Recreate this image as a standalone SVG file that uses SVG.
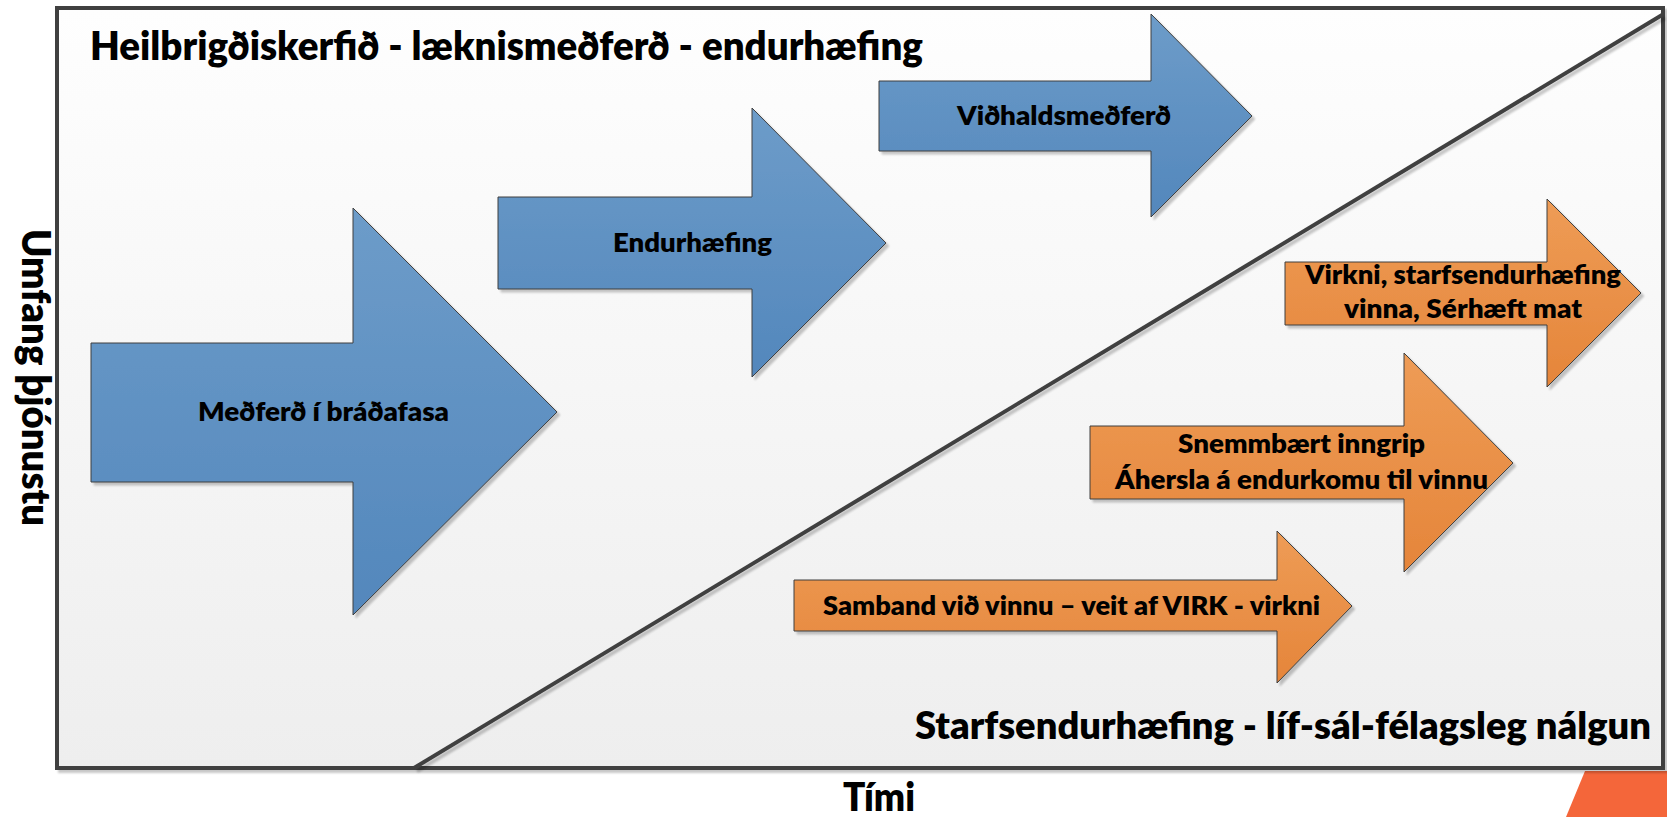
<svg xmlns="http://www.w3.org/2000/svg" width="1667" height="817" viewBox="0 0 1667 817">
<defs>
<linearGradient id="bg" x1="0" y1="0" x2="0" y2="1">
<stop offset="0" stop-color="#fefefe"/>
<stop offset="1" stop-color="#eeeeee"/>
</linearGradient>
<linearGradient id="blue" x1="0" y1="0" x2="0" y2="1">
<stop offset="0" stop-color="#6d9cc9"/>
<stop offset="1" stop-color="#5387bc"/>
</linearGradient>
<linearGradient id="orange" x1="0" y1="0" x2="0" y2="1">
<stop offset="0" stop-color="#ee9c56"/>
<stop offset="1" stop-color="#e5853a"/>
</linearGradient>
<filter id="sh" x="-5%" y="-5%" width="115%" height="115%">
<feGaussianBlur in="SourceAlpha" stdDeviation="1.2"/>
<feOffset dx="3" dy="3"/>
<feComponentTransfer><feFuncA type="linear" slope="0.22"/></feComponentTransfer>
<feMerge><feMergeNode/><feMergeNode in="SourceGraphic"/></feMerge>
</filter>
<style>
.t{font-family:"Lato","Liberation Sans",sans-serif;font-weight:800;fill:#000}
.big{font-size:39px}
.lbl{font-size:27px;text-anchor:middle}
.arB{fill:url(#blue);stroke:#3f3f3f;stroke-width:1;filter:url(#sh)}
.arO{fill:url(#orange);stroke:#3f3f3f;stroke-width:1;filter:url(#sh)}
</style>
</defs>
<rect width="1667" height="817" fill="#ffffff"/>
<polygon points="1585,771 1667,771 1667,817 1566,817" fill="#f4663a"/>
<g id="frame">
<rect x="57" y="8" width="1606" height="760" fill="url(#bg)" stroke="#404040" stroke-width="4" filter="url(#sh)"/>
</g>
<g id="divider">
<line x1="414" y1="768" x2="1662" y2="15" stroke="#404040" stroke-width="4" filter="url(#sh)"/>
</g>
<g id="titles">
<text class="t big" x="90" y="60" textLength="833" lengthAdjust="spacingAndGlyphs">Heilbrigðiskerfið - læknismeðferð - endurhæfing</text>
<text class="t" style="font-size:37px" x="915" y="739" textLength="736" lengthAdjust="spacingAndGlyphs">Starfsendurhæfing - líf-sál-félagsleg nálgun</text>
<text class="t big" x="843" y="811" textLength="72" lengthAdjust="spacingAndGlyphs">Tími</text>
<text class="t big" transform="translate(22,229) rotate(90)" x="0" y="0" textLength="297" lengthAdjust="spacingAndGlyphs">Umfang þjónustu</text>
</g>
<g id="node-bradafasi">
<polygon class="arB" points="91,343 353,343 353,208 557,412 353,615 353,482 91,482"/>
<text class="t lbl" x="323.5" y="421" textLength="251" lengthAdjust="spacingAndGlyphs">Meðferð í bráðafasa</text>
</g>
<g id="node-endurhaefing">
<polygon class="arB" points="498,197 752,197 752,108 886,243 752,377 752,289 498,289"/>
<text class="t lbl" x="692.5" y="252" textLength="159" lengthAdjust="spacingAndGlyphs">Endurhæfing</text>
</g>
<g id="node-vidhald">
<polygon class="arB" points="879,81 1151,81 1151,14 1252,116 1151,217 1151,151 879,151"/>
<text class="t lbl" x="1064" y="125" textLength="214" lengthAdjust="spacingAndGlyphs">Viðhaldsmeðferð</text>
</g>
<g id="node-virkni">
<polygon class="arO" points="1285,262 1547,262 1547,199 1641,293 1547,387 1547,325 1285,325"/>
<text class="t lbl" x="1463" y="284" textLength="316" lengthAdjust="spacingAndGlyphs">Virkni, starfsendurhæfing</text>
<text class="t lbl" x="1463" y="318" textLength="238" lengthAdjust="spacingAndGlyphs">vinna, Sérhæft mat</text>
</g>
<g id="node-snemmbaert">
<polygon class="arO" points="1090,426 1404,426 1404,353 1513,463 1404,572 1404,499 1090,499"/>
<text class="t lbl" x="1301.5" y="453" textLength="247" lengthAdjust="spacingAndGlyphs">Snemmbært inngrip</text>
<text class="t lbl" x="1301.5" y="489" textLength="373" lengthAdjust="spacingAndGlyphs">Áhersla á endurkomu til vinnu</text>
</g>
<g id="node-samband">
<polygon class="arO" points="794,580 1277,580 1277,531 1352,606 1277,683 1277,631 794,631"/>
<text class="t lbl" x="1071.5" y="615" textLength="497" lengthAdjust="spacingAndGlyphs">Samband við vinnu – veit af VIRK - virkni</text>
</g>
</svg>
